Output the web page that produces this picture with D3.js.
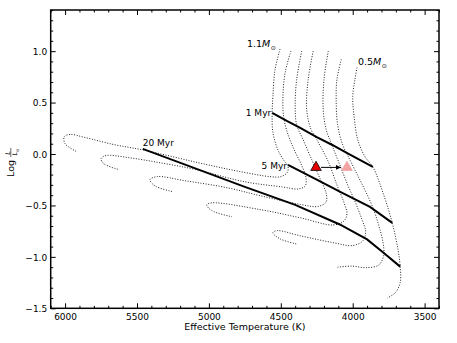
<!DOCTYPE html>
<html>
<head>
<meta charset="utf-8">
<script src="https://cdn.jsdelivr.net/npm/d3@7"></script>
<style>
  html, body { margin: 0; padding: 0; background: #fff; }
  svg { display: block; }
  text { font-family: "DejaVu Sans", sans-serif; }
</style>
</head>
<body>
<svg id="chart" width="457" height="343"></svg>
<script>
// ---------- data (Teff in K, log L/Lsun) ----------
const xTicksMajor = [6000, 5500, 5000, 4500, 4000, 3500];
const yTicksMajor = [-1.5, -1.0, -0.5, 0.0, 0.5, 1.0];

// Pre-main-sequence evolutionary tracks (1.1 ... 0.5 Msun)
const track11T = [4505,4540,4555,4560,4555,4520,4480,4450,4455,4500,4575,4785,5025,5460,5655,5860,5965,6005,6000,5915];
const track11L = [1.02,0.82,0.56,0.40,0.21,0.04,-0.06,-0.12,-0.18,-0.22,-0.22,-0.17,-0.10,0.04,0.09,0.16,0.19,0.17,0.10,0.02];
const track10T = [4430,4470,4485,4480,4450,4400,4355,4325,4330,4380,4490,4750,5095,5340,5560,5715,5750,5730,5630];
const track10L = [1.00,0.79,0.56,0.36,0.19,0.02,-0.11,-0.23,-0.31,-0.34,-0.32,-0.27,-0.15,-0.085,-0.035,-0.015,-0.045,-0.095,-0.15];
const track09T = [4355,4390,4400,4390,4345,4285,4230,4185,4185,4240,4365,4645,4865,5165,5360,5410,5375,5255];
const track09L = [1.00,0.72,0.48,0.285,0.14,-0.055,-0.23,-0.38,-0.465,-0.51,-0.49,-0.405,-0.33,-0.26,-0.22,-0.25,-0.31,-0.365];
const track08T = [4275,4310,4320,4290,4250,4170,4110,4060,4040,4060,4135,4365,4645,4980,5015,4980,4840];
const track08L = [1.00,0.72,0.43,0.24,0.14,-0.075,-0.30,-0.475,-0.58,-0.65,-0.69,-0.62,-0.54,-0.475,-0.495,-0.55,-0.61];
const track07T = [4170,4200,4205,4185,4145,4090,4035,3980,3935,3910,3930,4000,4125,4365,4525,4555,4505,4390];
const track07L = [1.00,0.72,0.43,0.24,0.09,-0.105,-0.30,-0.475,-0.64,-0.755,-0.845,-0.89,-0.865,-0.795,-0.745,-0.765,-0.825,-0.875];
const track06T = [4080,4110,4115,4105,4070,4020,3965,3910,3860,3820,3790,3785,3820,3910,4005,4105];
const track06L = [0.92,0.72,0.53,0.285,0.09,-0.055,-0.21,-0.365,-0.52,-0.69,-0.855,-0.99,-1.08,-1.105,-1.09,-1.10];
const track05T = [3970,3985,4000,3990,3965,3915,3860,3790,3725,3685,3670,3670,3705,3760];
const track05L = [0.84,0.72,0.56,0.36,0.14,-0.025,-0.125,-0.375,-0.67,-0.93,-1.095,-1.25,-1.35,-1.40];
const trackMassLabels = ["1.1", "0.5"];

// Isochrones
const iso1T = [4560,4455,4365,4250,4145,4035,3860];
const iso1L = [0.40,0.32,0.255,0.165,0.09,0.005,-0.125];
const iso5T = [4450,4250,4090,3880,3725];
const iso5L = [-0.105,-0.25,-0.365,-0.515,-0.67];
const iso20T = [5460,5095,4750,4400,4090,3900,3790,3670];
const iso20L = [0.05,-0.14,-0.32,-0.495,-0.685,-0.83,-0.955,-1.095];
const isoLabels = ["1 Myr", "5 Myr", "20 Myr"];

// Star position before / after
const starT = [4255, 4040];
const starL = [-0.13, -0.13];

// ---------- layout ----------
const svg = d3.select("#chart");
const L = 50.7, R = 439, T = 10, B = 308.3;
const x = d3.scaleLinear().domain([6100, 3400]).range([L, R]);
const y = d3.scaleLinear().domain([-1.5, 1.4]).range([B, T]);

const line = d3.line().x(d => x(d[0])).y(d => y(d[1])).curve(d3.curveCatmullRom.alpha(0.5));
const zip = (a, b) => a.map((v, i) => [v, b[i]]);

const tracks = [
  zip(track11T, track11L), zip(track10T, track10L), zip(track09T, track09L),
  zip(track08T, track08L), zip(track07T, track07L), zip(track06T, track06L),
  zip(track05T, track05L)
];

const g = svg.append("g");
g.selectAll("path.track").data(tracks).enter().append("path")
  .attr("class", "track")
  .attr("d", line)
  .attr("fill", "none")
  .attr("stroke", "#222")
  .attr("stroke-width", 1)
  .attr("stroke-dasharray", "1,1.6");

const isos = [zip(iso1T, iso1L), zip(iso5T, iso5L), zip(iso20T, iso20L)];
const isoLine = d3.line().x(d => x(d[0])).y(d => y(d[1])).curve(d3.curveLinear);
g.selectAll("path.iso").data(isos).enter().append("path")
  .attr("class", "iso")
  .attr("d", isoLine)
  .attr("fill", "none")
  .attr("stroke", "#000")
  .attr("stroke-width", 2);

// isochrone labels
g.append("text").attr("x", x(iso1T[0]) - 1).attr("y", y(iso1L[0]) + 3)
  .attr("text-anchor", "end").attr("font-size", 9).text(isoLabels[0]);
g.append("text").attr("x", x(iso5T[0]) - 1).attr("y", y(iso5L[0]) + 4)
  .attr("text-anchor", "end").attr("font-size", 9).text(isoLabels[1]);
g.append("text").attr("x", x(iso20T[0])).attr("y", y(iso20L[0]) - 2.5)
  .attr("text-anchor", "start").attr("font-size", 9).text(isoLabels[2]);

// mass labels
function massLabel(m, tx, ly) {
  const t = g.append("text").attr("x", x(tx)).attr("y", y(ly))
    .attr("font-family", "DejaVu Serif, serif").attr("font-size", 9.5);
  t.append("tspan").text(m);
  t.append("tspan").attr("font-style", "italic").text("M");
  t.append("tspan").attr("font-size", 6).attr("dy", 3).attr("dx", 0.5).text("\u2299");
}
massLabel(trackMassLabels[0], 4735, 1.045);
massLabel(trackMassLabels[1], 3964, 0.87);

// arrow
svg.append("defs").append("marker")
  .attr("id", "ah").attr("viewBox", "0 0 10 10").attr("refX", 10).attr("refY", 5)
  .attr("markerWidth", 5).attr("markerHeight", 5).attr("markerUnits", "userSpaceOnUse")
  .attr("orient", "auto")
  .append("path").attr("d", "M0,0 L10,5 L0,10 z").attr("fill", "#000");
g.append("line")
  .attr("x1", x(starT[0]) + 5).attr("x2", x(starT[1]) - 6)
  .attr("y1", y(starL[0])).attr("y2", y(starL[1]))
  .attr("stroke", "#000").attr("stroke-width", 1)
  .attr("marker-end", "url(#ah)");

// stars
const tri = d3.symbol().type(d3.symbolTriangle).size(48);
g.append("path").attr("d", tri)
  .attr("transform", `translate(${x(starT[0])},${y(starL[0])})`)
  .attr("fill", "#e60000").attr("stroke", "#000").attr("stroke-width", 0.8);
g.append("path").attr("d", tri)
  .attr("transform", `translate(${x(starT[1])},${y(starL[1])})`)
  .attr("fill", "#f4a3a3").attr("stroke", "#eea0a0").attr("stroke-width", 0.8);

// ---------- axes ----------
const xMinor = d3.range(3400, 6101, 100).filter(v => v % 500 !== 0);
const yMinor = d3.range(-15, 15, 1).map(v => v / 10).filter(v => Math.abs(Math.round(v * 10)) % 5 !== 0);

function styleAxis(sel) {
  sel.select(".domain").remove();
  sel.selectAll("line").attr("stroke", "#000").attr("stroke-width", 1);
}

const ax = [];
// bottom
ax.push(svg.append("g").attr("transform", `translate(0,${B})`)
  .call(d3.axisBottom(x).tickValues(xTicksMajor).tickSize(-5).tickPadding(4).tickFormat(d3.format("d"))));
ax.push(svg.append("g").attr("transform", `translate(0,${B})`)
  .call(d3.axisBottom(x).tickValues(xMinor).tickSize(-2.5).tickFormat("")));
// top
ax.push(svg.append("g").attr("transform", `translate(0,${T})`)
  .call(d3.axisTop(x).tickValues(xTicksMajor).tickSize(-5).tickFormat("")));
ax.push(svg.append("g").attr("transform", `translate(0,${T})`)
  .call(d3.axisTop(x).tickValues(xMinor).tickSize(-2.5).tickFormat("")));
// left
ax.push(svg.append("g").attr("transform", `translate(${L},0)`)
  .call(d3.axisLeft(y).tickValues(yTicksMajor).tickSize(-5).tickPadding(4).tickFormat(d3.format(".1f"))));
ax.push(svg.append("g").attr("transform", `translate(${L},0)`)
  .call(d3.axisLeft(y).tickValues(yMinor).tickSize(-2.5).tickFormat("")));
// right
ax.push(svg.append("g").attr("transform", `translate(${R},0)`)
  .call(d3.axisRight(y).tickValues(yTicksMajor.concat([1.5].filter(v => v <= 1.4))).tickSize(-5).tickFormat("")));
ax.push(svg.append("g").attr("transform", `translate(${R},0)`)
  .call(d3.axisRight(y).tickValues(yMinor).tickSize(-2.5).tickFormat("")));
ax.forEach(styleAxis);

// tick label fonts
ax[0].selectAll("text").attr("font-family", "DejaVu Sans").attr("font-size", 9)
  .attr("fill", "#000").attr("dy", 0).attr("y", 12);
ax[4].selectAll("text").attr("font-family", "DejaVu Sans").attr("font-size", 9)
  .attr("fill", "#000").attr("x", -3.5).attr("dy", "0.35em");

// frame
svg.append("rect").attr("x", L).attr("y", T).attr("width", R - L).attr("height", B - T)
  .attr("fill", "none").attr("stroke", "#000").attr("stroke-width", 1.5);

// axis labels
svg.append("text").attr("x", (L + R) / 2).attr("y", 330).attr("text-anchor", "middle")
  .attr("font-size", 9.5).text("Effective Temperature (K)");

const yl = svg.append("g").attr("transform", "translate(14,177) rotate(-90)");
yl.append("text").attr("x", 0).attr("y", 0).attr("font-size", 9.5).text("Log");
yl.append("text").attr("x", 24).attr("y", -4.3).attr("text-anchor", "middle")
  .attr("font-family", "DejaVu Serif, serif").attr("font-style", "italic").attr("font-size", 6.5).text("L");
yl.append("line").attr("x1", 20).attr("x2", 29).attr("y1", -3.2).attr("y2", -3.2)
  .attr("stroke", "#000").attr("stroke-width", 0.6);
const den = yl.append("text").attr("x", 21.5).attr("y", 3.2)
  .attr("font-family", "DejaVu Serif, serif").attr("font-size", 6.5);
den.append("tspan").attr("font-style", "italic").text("L");
den.append("tspan").attr("font-size", 4).attr("dy", 1.5).text("\u2299");
</script>
</body>
</html>
